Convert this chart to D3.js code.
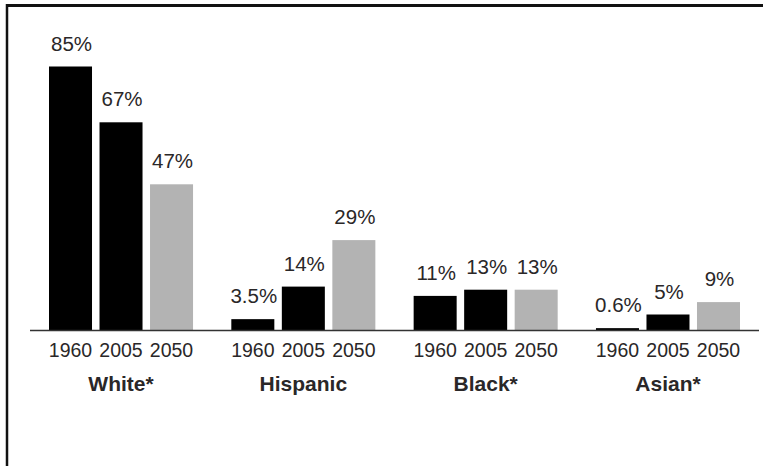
<!DOCTYPE html>
<html lang="en">
<head>
    <meta charset="UTF-8">
    <title>Population share by group</title>
    <style>
        body {
            margin: 0;
            padding: 0;
            background-color: #ffffff;
            overflow: hidden;
        }
        svg text {
            font-family: 'Liberation Sans', Arial, sans-serif;
            fill: #2a2728;
        }
        .value { font-size: 20.5px; }
        .year { font-size: 19.5px; }
        .group { font-size: 21px; font-weight: bold; }
    </style>
</head>
<body>
    <div class="chart"></div>

    <script src="https://d3js.org/d3.v7.min.js"></script>
    <script>
        const width = 763;
        const height = 466;

        const groups = ["White*", "Hispanic", "Black*", "Asian*"];
        const years = ["1960", "2005", "2050"];
        // share of population, % (one row per group, one value per year)
        const white = [85, 67, 47];
        const hispanic = [3.5, 14, 29];
        const black = [11, 13, 13];
        const asian = [0.6, 5, 9];
        const valueLabels = [
            ["85%", "67%", "47%"],
            ["3.5%", "14%", "29%"],
            ["11%", "13%", "13%"],
            ["0.6%", "5%", "9%"]
        ];

        const series = [white, hispanic, black, asian];
        const data = [];
        groups.forEach((g, gi) => {
            years.forEach((yr, yi) => {
                data.push({ group: g, year: yr, value: series[gi][yi], label: valueLabels[gi][yi] });
            });
        });

        const svg = d3.select('.chart')
            .append('svg')
            .attr('width', width)
            .attr('height', height);

        // frame: top and left rules only
        svg.append('line')
            .attr('x1', 6).attr('x2', width)
            .attr('y1', 5.5).attr('y2', 5.5)
            .attr('stroke', '#111').attr('stroke-width', 3);
        svg.append('line')
            .attr('x1', 7).attr('x2', 7)
            .attr('y1', 4).attr('y2', height)
            .attr('stroke', '#111').attr('stroke-width', 2.5);

        const x0 = d3.scaleBand()
            .domain(groups)
            .range([49, 740])
            .paddingInner(0.21)
            .paddingOuter(0);

        const x1 = d3.scaleBand()
            .domain(years)
            .range([0, x0.bandwidth()])
            .paddingInner(0.1485)
            .paddingOuter(0);

        const baseY = 330;
        const y = d3.scaleLinear()
            .domain([0, 100])
            .range([baseY, baseY - 310]);

        const color = d3.scaleOrdinal()
            .domain(years)
            .range(['#000000', '#000000', '#b3b3b3']);

        const bar = svg.selectAll('.bar')
            .data(data)
            .enter().append('g')
            .attr('class', 'bar');

        bar.append('rect')
            .attr('x', d => x0(d.group) + x1(d.year))
            .attr('y', d => y(d.value))
            .attr('width', x1.bandwidth())
            .attr('height', d => baseY - y(d.value))
            .attr('fill', d => color(d.year));

        bar.append('text')
            .attr('class', 'value')
            .attr('text-anchor', 'middle')
            .attr('x', d => x0(d.group) + x1(d.year) + x1.bandwidth() / 2 + 1)
            .attr('y', d => y(d.value) - 16)
            .text(d => d.label);

        bar.append('text')
            .attr('class', 'year')
            .attr('text-anchor', 'middle')
            .attr('x', d => x0(d.group) + x1(d.year) + x1.bandwidth() / 2)
            .attr('y', baseY + 27)
            .text(d => d.year);

        // baseline
        svg.append('line')
            .attr('x1', 30).attr('x2', 759)
            .attr('y1', baseY + 0.5).attr('y2', baseY + 0.5)
            .attr('stroke', '#333').attr('stroke-width', 1.5);

        svg.selectAll('.group')
            .data(groups)
            .enter().append('text')
            .attr('class', 'group')
            .attr('text-anchor', 'middle')
            .attr('x', d => x0(d) + x0.bandwidth() / 2)
            .attr('y', baseY + 61)
            .text(d => d);
    </script>
</body>
</html>
